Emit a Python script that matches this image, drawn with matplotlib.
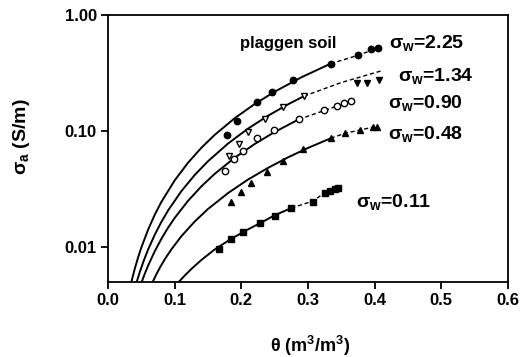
import matplotlib
matplotlib.use("Agg")
import matplotlib.pyplot as plt

plt.rcParams['font.family'] = ['Liberation Sans', 'DejaVu Sans']
plt.rcParams['font.weight'] = 'bold'
plt.rcParams['mathtext.fontset'] = 'custom'
plt.rcParams['mathtext.rm'] = 'Liberation Sans:bold'
plt.rcParams['mathtext.it'] = 'Liberation Sans:bold'
plt.rcParams['mathtext.bf'] = 'Liberation Sans:bold'

# ---- measured data points ----
th_225 = [0.178, 0.194, 0.224, 0.246, 0.278, 0.334, 0.375, 0.394, 0.405]
sa_225 = [0.093, 0.121, 0.179, 0.217, 0.278, 0.381, 0.449, 0.506, 0.523]

th_134_open = [0.181, 0.196, 0.210, 0.236, 0.262, 0.294]
sa_134_open = [0.061, 0.078, 0.098, 0.128, 0.162, 0.200]
th_134_fill = [0.373, 0.389, 0.407]
sa_134_fill = [0.257, 0.262, 0.274]

th_090 = [0.175, 0.189, 0.202, 0.224, 0.249, 0.286, 0.324, 0.343, 0.354, 0.365]
sa_090 = [0.0454, 0.0577, 0.0673, 0.0865, 0.103, 0.126, 0.151, 0.164, 0.173, 0.181]

th_048 = [0.184, 0.199, 0.214, 0.238, 0.262, 0.293, 0.334, 0.355, 0.378, 0.398, 0.403]
sa_048 = [0.0243, 0.0301, 0.0360, 0.0448, 0.0550, 0.0697, 0.0865, 0.0955, 0.102, 0.109, 0.109]

th_011 = [0.167, 0.185, 0.202, 0.228, 0.250, 0.275, 0.308, 0.325, 0.333, 0.340, 0.345]
sa_011 = [0.0097, 0.0117, 0.0134, 0.0160, 0.0186, 0.0217, 0.0247, 0.0295, 0.0307, 0.0316, 0.0322]

# ---- model curves (solid part, dashed extension) ----
c225_th = [0.035, 0.04, 0.045, 0.05, 0.06, 0.07, 0.08, 0.10, 0.12, 0.14, 0.16, 0.19, 0.22, 0.25, 0.29, 0.334]
c225_sa = [0.005, 0.00646, 0.0081, 0.00992, 0.01408, 0.01894, 0.02447, 0.03757, 0.05332, 0.07172,
           0.09268, 0.1290, 0.1709, 0.2184, 0.2904, 0.381]
c225d_th = [0.334, 0.375, 0.405]
c225d_sa = [0.381, 0.449, 0.520]

c134_th = [0.043, 0.048, 0.054, 0.06, 0.07, 0.08, 0.09, 0.11, 0.13, 0.15, 0.18, 0.21, 0.24, 0.27, 0.294]
c134_sa = [0.005, 0.00618, 0.00774, 0.00948, 0.01274, 0.01646, 0.02064, 0.03032, 0.0418, 0.05498,
           0.07801, 0.1049, 0.1355, 0.1699, 0.2001]
c134d_th = [0.294, 0.35, 0.41]
c134d_sa = [0.200, 0.262, 0.330]

c090_th = [0.0505, 0.055, 0.06, 0.07, 0.08, 0.09, 0.10, 0.12, 0.14, 0.16, 0.19, 0.22, 0.25, 0.286]
c090_sa = [0.005, 0.00586, 0.00689, 0.00918, 0.01177, 0.01466, 0.01783, 0.02503, 0.03335, 0.04276,
           0.05888, 0.07735, 0.09813, 0.126]
c090d_th = [0.286, 0.324, 0.365]
c090d_sa = [0.126, 0.150, 0.181]

c048_th = [0.067, 0.072, 0.078, 0.085, 0.095, 0.11, 0.13, 0.15, 0.18, 0.21, 0.24, 0.27, 0.30, 0.334]
c048_sa = [0.005, 0.00575, 0.00668, 0.00783, 0.00955, 0.01240, 0.01660, 0.02130, 0.02920, 0.0382,
           0.04814, 0.05935, 0.07154, 0.08658]
c048d_th = [0.334, 0.355, 0.378, 0.403]
c048d_sa = [0.0866, 0.0955, 0.102, 0.110]

c011_th = [0.106, 0.115, 0.125, 0.14, 0.16, 0.185, 0.21, 0.23, 0.25, 0.275]
c011_sa = [0.005, 0.00568, 0.00648, 0.00774, 0.00954, 0.0118, 0.0142, 0.0163, 0.0188, 0.0217]
c011d_th = [0.275, 0.308, 0.325, 0.345]
c011d_sa = [0.0217, 0.0250, 0.0295, 0.0322]

x_ticks = [0.0, 0.1, 0.2, 0.3, 0.4, 0.5, 0.6]
y_ticks = [0.01, 0.10, 1.00]
y_tick_labels = ['0.01', '0.10', '1.00']

labels = [r'$\sigma_{\rm w}$=2.25', r'$\sigma_{\rm w}$=1.34', r'$\sigma_{\rm w}$=0.90',
          r'$\sigma_{\rm w}$=0.48', r'$\sigma_{\rm w}$=0.11']
label_pos = [(0.422, 0.575), (0.435, 0.30), (0.420, 0.175), (0.420, 0.095), (0.372, 0.0245)]

fig = plt.figure(figsize=(5.2, 3.57), dpi=100)
ax = fig.add_axes([0.2077, 0.210, 0.7693, 0.748])

lw = 1.4
for th, sa in [(c225_th, c225_sa), (c134_th, c134_sa), (c090_th, c090_sa),
               (c048_th, c048_sa), (c011_th, c011_sa)]:
    ax.plot(th, sa, color='black', lw=lw, solid_capstyle='round', solid_joinstyle='round')
for th, sa in [(c225d_th, c225d_sa), (c134d_th, c134d_sa), (c090d_th, c090d_sa),
               (c048d_th, c048d_sa), (c011d_th, c011d_sa)]:
    ax.plot(th, sa, color='black', lw=1.0, ls=(0, (3, 2)))

ms = 4.6
ax.plot(th_225, sa_225, 'o', color='black', ms=ms)
ax.plot(th_134_open, sa_134_open, 'v', mfc='white', mec='black', mew=1.0, ms=ms + 0.4)
ax.plot(th_134_fill, sa_134_fill, 'v', color='black', ms=ms + 0.4)
ax.plot(th_090, sa_090, 'o', mfc='white', mec='black', mew=1.0, ms=ms)
ax.plot(th_048, sa_048, '^', color='black', ms=ms + 0.4)
ax.plot(th_011, sa_011, 's', color='black', ms=ms - 0.6)

ax.set_yscale('log')
ax.set_xlim(0, 0.6)
ax.set_ylim(0.005, 1.0)
ax.set_xticks(x_ticks)
ax.set_xticklabels([f'{v:.1f}' for v in x_ticks])
ax.set_yticks(y_ticks)
ax.set_yticklabels(y_tick_labels)
ax.yaxis.set_minor_locator(matplotlib.ticker.NullLocator())
ax.tick_params(axis='both', which='major', direction='out', length=5, width=1.3,
               labelsize=12, pad=3)
for lab in ax.get_xticklabels() + ax.get_yticklabels():
    lab.set_fontweight('bold')
for s in ax.spines.values():
    s.set_linewidth(1.3)

ax.set_xlabel(r'$\theta$ (m$^{3}$/m$^{3}$)', fontsize=13, fontweight='bold')
ax.set_ylabel(r'$\sigma_{\rm a}$ (S/m)', fontsize=14, fontweight='bold')
ax.xaxis.set_label_coords(0.505, -0.195)
ax.yaxis.set_label_coords(-0.19, 0.543)

ax.text(0.27, 0.57, 'plaggen soil', fontsize=12, fontweight='bold',
        ha='center', va='center')
for (x, y), t in zip(label_pos, labels):
    ax.text(x, y, t, fontsize=14, fontweight='bold', ha='left', va='center')

fig.savefig('out.png', dpi=100)
